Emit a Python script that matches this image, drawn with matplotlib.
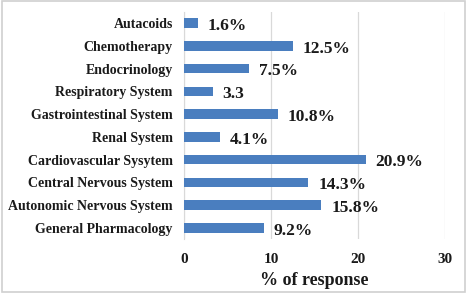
import matplotlib.pyplot as plt
from matplotlib.patches import Rectangle

# categories listed bottom to top
categories = ["General Pharmacology", "Autonomic Nervous System",
              "Central Nervous System", "Cardiovascular Sysytem",
              "Renal System", "Gastrointestinal System",
              "Respiratory System", "Endocrinology", "Chemotherapy",
              "Autacoids"]
values = [9.2, 15.8, 14.3, 20.9, 4.1, 10.8, 3.3, 7.5, 12.5, 1.6]
value_labels = ["9.2%", "15.8%", "14.3%", "20.9%", "4.1%", "10.8%",
                "3.3", "7.5%", "12.5%", "1.6%"]
xticks = [0, 10, 20, 30]

plt.rcParams['font.family'] = ['Liberation Serif', 'DejaVu Serif']

fig = plt.figure(figsize=(4.69, 2.96), dpi=100)
ax = fig.add_axes([0.392, 0.191, 0.557, 0.770])

y = range(len(categories))
ax.barh(y, values, height=0.42, color='#4A7EBF', zorder=3)

for i, (v, lab) in enumerate(zip(values, value_labels)):
    ax.annotate(lab, (v, i), xytext=(7, -2), textcoords='offset points',
                ha='left', va='center', fontsize=12.5, fontweight='bold',
                color='#1a1a1a')

ax.set_yticks(list(y))
ax.set_yticklabels(categories, fontsize=10, fontweight='bold', color='#1a1a1a')
ax.set_xticks(xticks)
ax.set_xticklabels([str(t) for t in xticks], fontsize=11, fontweight='bold',
                   color='#1a1a1a')
ax.set_xlim(0, 30)
ax.set_ylim(-0.5, len(categories) - 0.5)
ax.set_xlabel("% of response", fontsize=13, fontweight='bold',
              color='#1a1a1a', labelpad=4)

ax.grid(axis='x', color='#D9D9D9', linewidth=0.9, zorder=0)
for s in ['top', 'right', 'bottom']:
    ax.spines[s].set_visible(False)
ax.spines['left'].set_color('#D9D9D9')
ax.tick_params(axis='y', length=0, pad=8)
ax.tick_params(axis='x', length=0, pad=10)

fig.patches.append(Rectangle((0.004, 0.015), 0.988, 0.98, transform=fig.transFigure,
                             fill=False, edgecolor='#D0D0D0', linewidth=1.2))

fig.savefig("out.png", dpi=100)
